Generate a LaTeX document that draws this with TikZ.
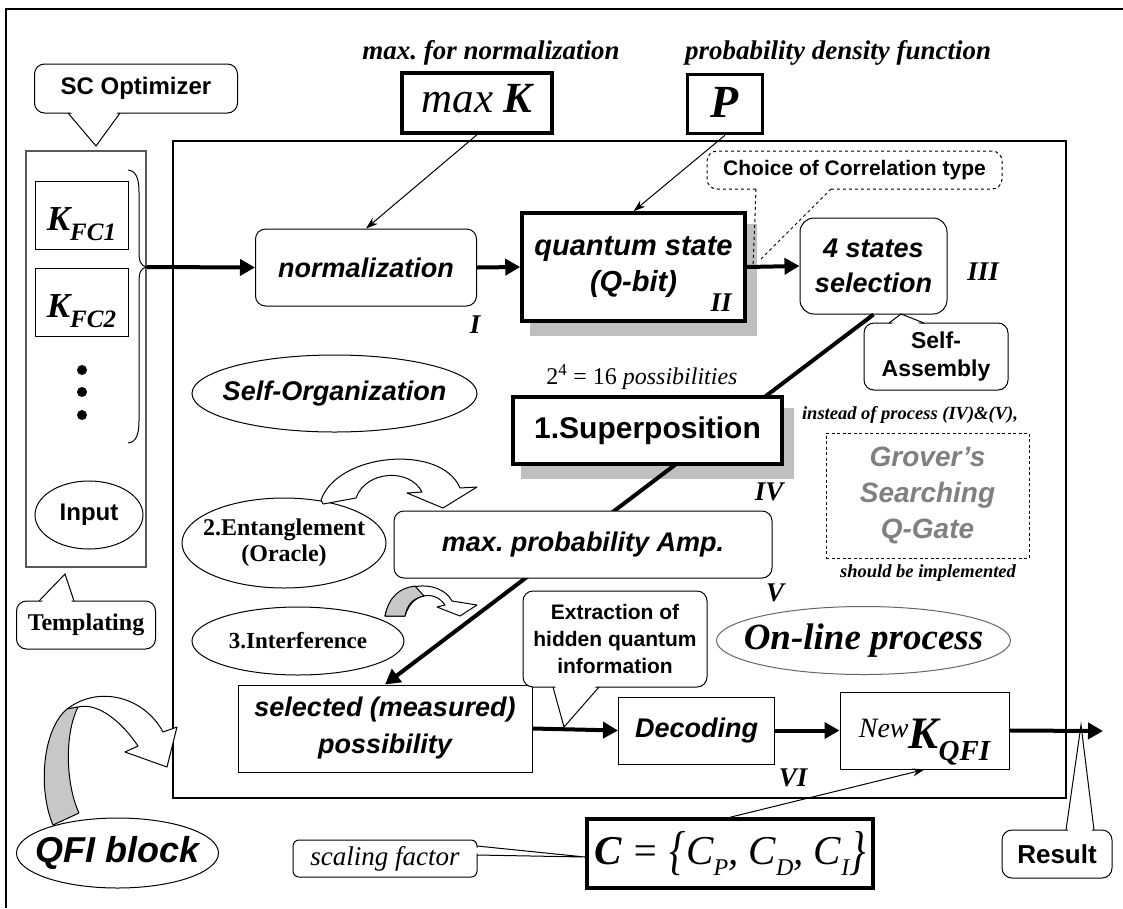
\documentclass[tikz,border=0pt]{standalone}
\usepackage{fontspec}
\setmainfont{Liberation Serif}
\setsansfont{Liberation Sans}
\usepackage{graphicx}
\usetikzlibrary{shapes,backgrounds,arrows.meta}
\frenchspacing

\begin{document}
\begin{tikzpicture}[x=1pt,y=-1pt,
    every node/.style={inner sep=0pt},
    sz/.style 2 args={minimum width=#1pt,minimum height=#2pt},
    box/.style={draw,line width=1pt,fill=white,align=center},
    rbox/.style={box,rounded corners=10pt},
    heavy/.style={draw,line width=3.5pt,fill=white,align=center},
    oval/.style={draw,line width=1pt,fill=white},
    shade/.style={fill=black!25},
    flow/.style={line width=4pt,-{Triangle[length=15pt,width=16pt]}},
    feed/.style={line width=1pt,-{Stealth[length=12pt,width=8pt]}},
    sansb/.style 2 args={font=\sffamily\bfseries\fontsize{#1}{#2}\selectfont},
    sansbi/.style 2 args={font=\sffamily\bfseries\itshape\fontsize{#1}{#2}\selectfont},
    serb/.style 2 args={font=\rmfamily\bfseries\fontsize{#1}{#2}\selectfont},
    serbi/.style 2 args={font=\rmfamily\bfseries\itshape\fontsize{#1}{#2}\selectfont},
    numeral/.style={serbi={27}{30}}]
    \def\csub#1{\raisebox{-11pt}{\fontsize{24}{24}\selectfont #1}}
    \useasboundingbox (0,0) rectangle (1123,908);
    % frames
    \draw[line width=2pt] (6,908) -- (6,9) -- (1123,9);
    \draw[line width=2pt] (173,141) rectangle (1066,798);
    \draw[line width=2.5pt,black!65] (26,151) rectangle (146,567);

    % input column
    \node[rbox,sz={203}{49},sansb={24}{28}] (sco) at (136,88.5) {SC Optimizer};
    \coordinate (scotip) at (96,146);
    \fill[white] (70,111) -- (scotip) -- (118,111) -- cycle;
    \draw[line width=1pt] (68,113) -- (scotip) -- (120,113);
    \node[box,sz={93}{68},serbi={35}{35},text height=30pt,text depth=0pt] (kfc1) at (81.5,215) {K\raisebox{-10pt}{\fontsize{25}{25}\selectfont FC1}};
    \node[box,sz={93}{68},serbi={35}{35},text height=30pt,text depth=0pt] (kfc2) at (81.5,302) {K\raisebox{-10pt}{\fontsize{25}{25}\selectfont FC2}};
    \foreach \n/\y in {1/370,2/392,3/415}
        \node[circle,fill,minimum size=10pt] (dot\n) at (82,\y) {};
    \coordinate (bracetip) at (147,267);
    \draw[line width=1pt] (128,170) .. controls (136,171) and (139,178) .. (139,192) -- (139,252)
        .. controls (139,262) and (141,266) .. (bracetip) .. controls (141,268) and (139,272) .. (139,282)
        -- (139,421) .. controls (139,435) and (136,442) .. (128,443);
    \draw[oval] (89,515) ellipse [x radius=54pt,y radius=34pt] node[sansb={24}{28}] (input) {Input};
    \node[rbox,sz={139}{48},serb={24}{28}] (templ) at (86,625) {Templating};
    \coordinate (templtip) at (65,574);
    \fill[white] (41,603) -- (templtip) -- (72,603) -- cycle;
    \draw[line width=1pt] (39,601) -- (templtip) -- (74,601);

    % top inputs
    \node[heavy,sz={150}{60},serbi={43}{43},text height=18pt,text depth=0pt] (maxk) at (477,103) {{\mdseries max} K};
    \node[serbi={27}{30}] (maxlbl) at (491,53) {max. for normalization};
    \node[heavy,sz={75}{59},serbi={46}{46},text height=26pt,text depth=0pt] (pin) at (725,104) {P};
    \node[serbi={27}{30}] (plbl) at (838,53) {probability density function};

    % main row
    \node[rbox,sz={221}{77},sansbi={27}{30}] (norm) at (366,267.5) {normalization};
    \node[heavy,sz={223}{108},sansbi={29}{36}] (quant) at (633.5,267) {quantum state\\(Q-bit)};
    \node[rbox,sz={147}{96},rounded corners=14pt,sansbi={27}{35}] (states) at (873.5,266) {4 states\\selection};
    \node[rbox,sz={295}{38},dashed,sansb={21}{24}] (choice) at (854.5,170) {Choice of Correlation type};
    \coordinate (choicetip1) at (753,268);
    \coordinate (choicetip2) at (759,261);
    \fill[white] (757,187) -- (830,187) -- (826,193) -- (757,193) -- cycle;
    \draw[dashed,line width=1pt] (756,189) -- (choicetip1);
    \draw[dashed,line width=1pt] (831,189) -- (choicetip2);
    \node[rbox,sz={144}{67},sansb={23}{28}] (selfasm) at (936,356.5) {Self-\\Assembly};
    \coordinate (asmtip) at (901,314);
    \fill[white] (891,325) -- (asmtip) -- (922,325) -- cycle;
    \draw[line width=1pt] (889,323) -- (asmtip) -- (924,323);

    \node[box,sz={294}{87},sansbi={27}{37}] (selected) at (385,728.5) {selected (measured)\\possibility};
    \draw[flow] (states.south) -- (selected.north);
    \node[heavy,sz={269}{67},sansb={30}{34}] (sup) at (647.5,430.5) {1.Superposition};
    \node[rbox,sz={378}{67},sansbi={27}{30}] (maxamp) at (583,544.5) {max. probability Amp.};
    \begin{scope}[on background layer]
        \fill[shade] ([shift={(10,13)}]quant.north west) rectangle ([shift={(10,13)}]quant.south east);
        \fill[shade] ([shift={(10,13)}]sup.north west) rectangle ([shift={(10,13)}]sup.south east);
    \end{scope}
    \node[font=\rmfamily\fontsize{24}{28}\selectfont] (poss) at (642,377) {2\textsuperscript{4} = 16 \textit{possibilities}};

    % quantum operators
    \draw[oval] (334.5,393.5) ellipse [x radius=142.5pt,y radius=38.5pt] node[sansbi={27}{30}] (selforg) {Self-Organization};
    \draw[oval] (284,543) ellipse [x radius=102pt,y radius=45pt] node[serb={24}{26},align=center] (entang) {2.Entanglement\\(Oracle)};
    \draw[oval] (298,641) ellipse [x radius=106pt,y radius=34pt] node[serb={23}{26}] (interf) {3.Interference};
    \draw[line width=1pt,fill=white,line join=round] (321,500) .. controls (338,452) and (442,444) .. (460,488)
        -- (477,487) -- (443,508) -- (407,493) -- (422,492) .. controls (410,468) and (366,470) .. (356,498) -- (323,504) -- cycle;
    \draw[line width=1pt,fill=white,line join=round] (385,616) .. controls (392,580) and (440,578) .. (452,601)
        -- (477,605) -- (460,616) -- (437,607) -- (445,605) .. controls (435,590) and (412,592) .. (405,616) -- cycle;
    \draw[line width=1pt,fill=black!22,line join=round] (385,616) .. controls (389,596) and (400,588) .. (415,586)
        -- (424,596) .. controls (413,598) and (407,605) .. (405,616) -- cycle;

    % output side
    \node[rbox,sz={184}{96},sansb={21}{27}] (extract) at (615,639) {Extraction of\\hidden quantum\\information};
    \coordinate (exttip) at (564,727);
    \fill[white] (555,685) -- (exttip) -- (597,685) -- cycle;
    \draw[line width=1pt] (553,687) -- (exttip) -- (599,687);
    \node[box,sz={156}{67},sansbi={27}{30}] (decod) at (696.5,730.5) {Decoding};
    \node[box,sz={169}{77},serbi={45}{45},text height=35pt,text depth=0pt] (newk) at (924.5,730.5)
        {\raisebox{11pt}{\fontsize{28}{28}\selectfont\mdseries New}K\raisebox{-12pt}{\fontsize{29}{29}\selectfont QFI}};
    \coordinate (out) at (1103,731);
    \draw[oval,draw=black!60] (863.5,640.5) ellipse [x radius=147pt,y radius=34pt] node[serbi={37}{40}] (online) {On-line process};
    \node[box,sz={203}{125},dash pattern=on 3pt off 2.5pt,text=black!50,sansbi={28}{36}] (grover) at (927.5,495.5) {Grover’s\\Searching\\Q-Gate};
    \node[serbi={18.5}{20}] (instead) at (910,415) {instead of process (IV)\&(V),};
    \node[serbi={18.5}{20}] (should) at (928,573) {should be implemented};

    % numerals
    \node[numeral] (n1) at (475,325) {I};
    \node[numeral] (n2) at (721,303) {II};
    \node[numeral] (n3) at (983,272) {III};
    \node[numeral] (n4) at (769,492) {IV};
    \node[numeral] (n5) at (775,593) {V};
    \node[numeral] (n6) at (793,778) {VI};

    % bottom
    \draw[oval] (117.5,853) ellipse [x radius=101pt,y radius=35pt] node[sansbi={36}{40}] (qfi) {QFI block};
    \draw[line width=1pt,fill=white,line join=round] (67,709) .. controls (100,684) and (145,698) .. (163,732)
        -- (177,727) -- (167,767) -- (125,752) -- (138,746) .. controls (122,722) and (98,702) .. (78,707) -- cycle;
    \draw[line width=1pt,fill=black!22,line join=round] (53,825) .. controls (38,790) and (42,730) .. (67,709)
        -- (78,707) .. controls (64,735) and (66,785) .. (79,813) -- cycle;
    \node[heavy,sz={286}{69},font=\rmfamily\itshape\fontsize{41}{41}\selectfont] (cset) at (730,853.5)
        {\textbf{C} = \raisebox{-4pt}{\scalebox{1}[1.3]{\{}}C\csub{P}, C\csub{D}, C\csub{I}\raisebox{-4pt}{\scalebox{1}[1.3]{\}}}};
    \node[rbox,sz={184}{37},rounded corners=6pt,font=\rmfamily\itshape\fontsize{27}{30}\selectfont] (scal) at (385,858.5) {scaling factor};
    \coordinate (scaltip) at (585,857);
    \fill[white] (475,847.5) -- (scaltip) -- (475,853.5) -- cycle;
    \draw[line width=1pt] (477,846) -- (scaltip) -- (477,855);
    \node[rbox,sz={110}{48},sansb={26}{30}] (result) at (1057,854) {Result};
    \coordinate (restip) at (1081,725);
    \fill[white] (1068,832) -- (restip) -- (1092,832) -- cycle;
    \draw[line width=1pt] (1066,830) -- (restip) -- (1094,830);

    % connectors
    \draw[flow] (bracetip) -- (norm.west);
    \draw[flow] (norm.east) -- (quant.west);
    \draw[flow] (quant.east) -- (states.west);
    \draw[flow] (selected.east) -- (decod.west);
    \draw[flow] (decod.east) -- (newk.west);
    \draw[flow] (newk.east) -- (out);
    \draw[feed] (maxk.south) -- (norm.north);
    \draw[feed] (pin.south) -- (quant.north);
    \draw[feed] (cset.north) -- (newk.south);
\end{tikzpicture}
\end{document}
